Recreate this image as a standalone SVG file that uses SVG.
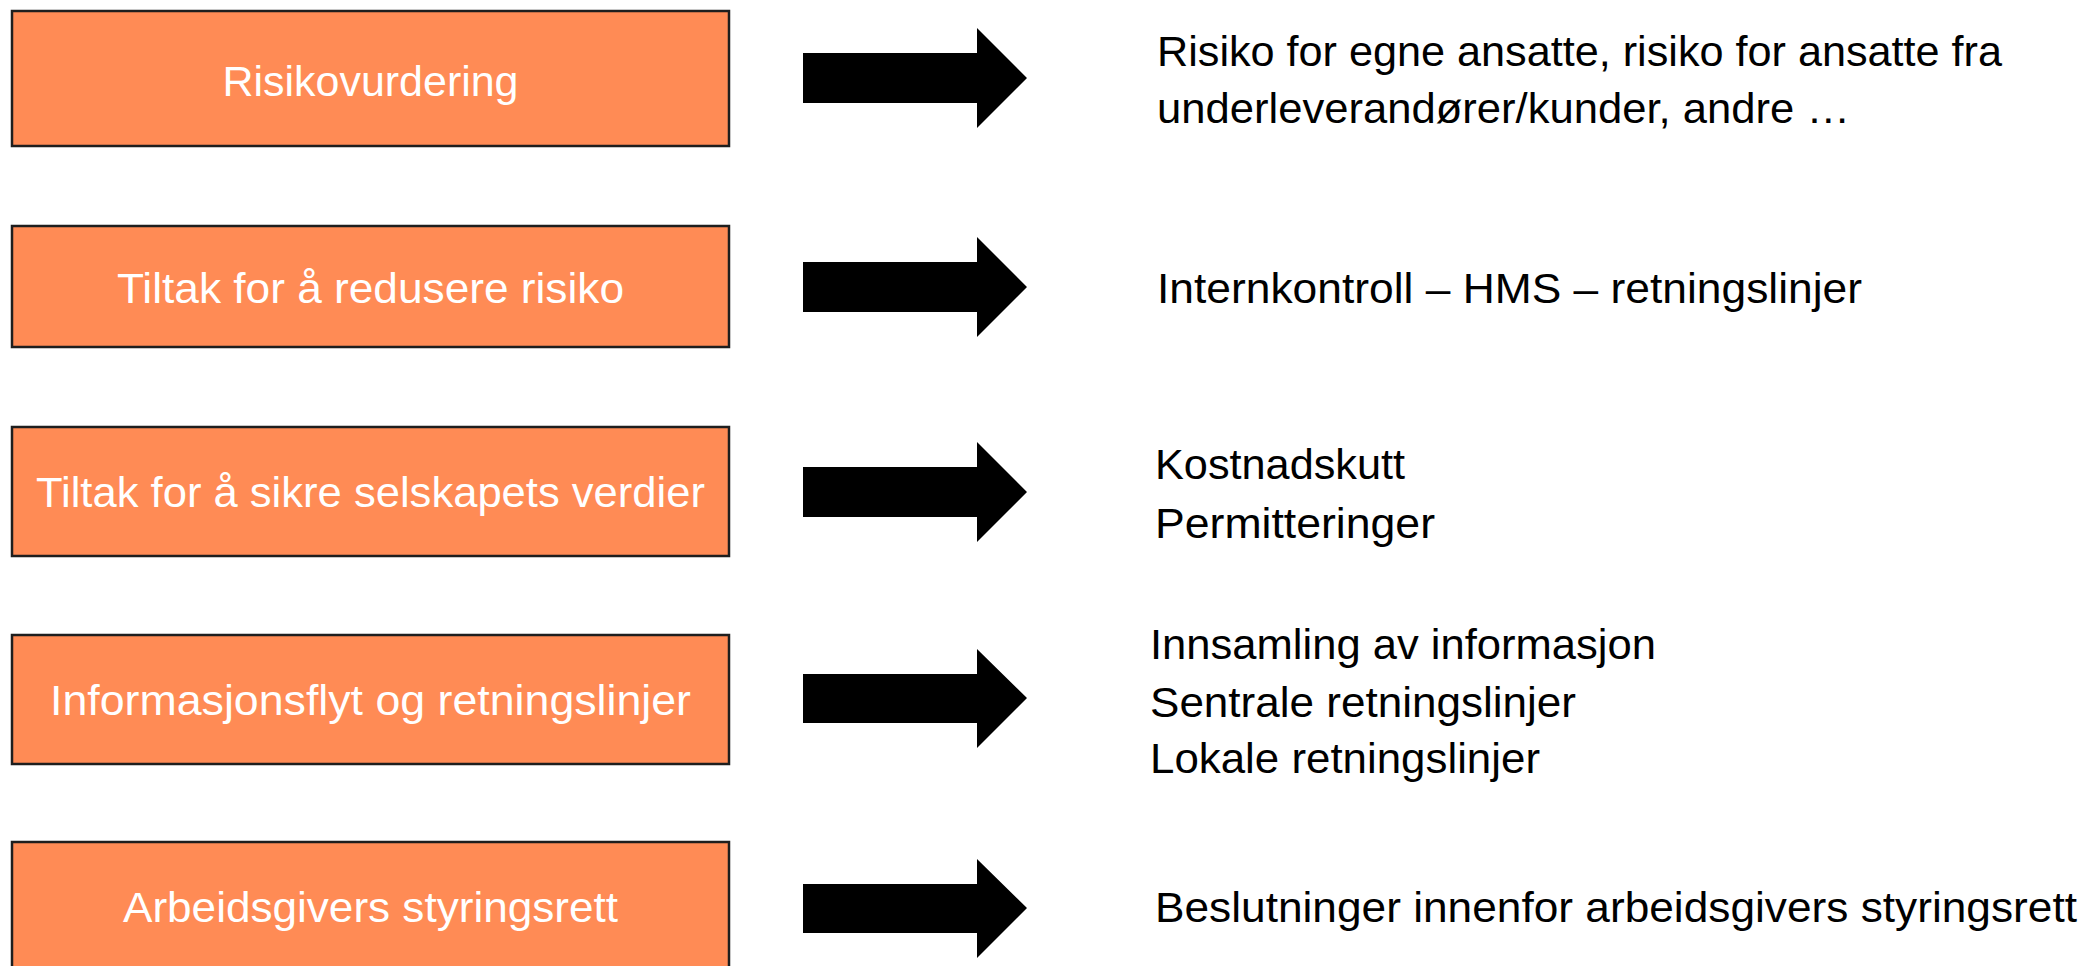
<svg xmlns="http://www.w3.org/2000/svg" width="2087" height="966" viewBox="0 0 2087 966">
<style>
.box{fill:#FF8B55;stroke:#1e1e1e;stroke-width:2.5}
.bt{font-family:"Liberation Sans",Arial,sans-serif;font-size:43px;fill:#ffffff;text-anchor:middle}
.rt{font-family:"Liberation Sans",Arial,sans-serif;font-size:43px;fill:#000000}
.arr{fill:#000000}
</style>
<rect width="2087" height="966" fill="#ffffff"/>
<g id="node1"><rect class="box" x="12" y="11" width="717" height="135"/><text class="bt" x="370.5" y="96" textLength="296" lengthAdjust="spacingAndGlyphs">Risikovurdering</text></g>
<g id="node2"><rect class="box" x="12" y="226" width="717" height="121"/><text class="bt" x="370.5" y="303" textLength="507" lengthAdjust="spacingAndGlyphs">Tiltak for å redusere risiko</text></g>
<g id="node3"><rect class="box" x="12" y="427" width="717" height="129"/><text class="bt" x="370.5" y="507" textLength="669" lengthAdjust="spacingAndGlyphs">Tiltak for å sikre selskapets verdier</text></g>
<g id="node4"><rect class="box" x="12" y="635" width="717" height="129"/><text class="bt" x="370.5" y="715" textLength="641" lengthAdjust="spacingAndGlyphs">Informasjonsflyt og retningslinjer</text></g>
<g id="node5"><rect class="box" x="12" y="842" width="717" height="134"/><text class="bt" x="370.5" y="922" textLength="495" lengthAdjust="spacingAndGlyphs">Arbeidsgivers styringsrett</text></g>
<g id="connectors">
<polygon class="arr" points="803,53 977,53 977,28 1027,78 977,128 977,103 803,103"/>
<polygon class="arr" points="803,262 977,262 977,237 1027,287 977,337 977,312 803,312"/>
<polygon class="arr" points="803,467 977,467 977,442 1027,492 977,542 977,517 803,517"/>
<polygon class="arr" points="803,674 977,674 977,649 1027,698 977,748 977,723 803,723"/>
<polygon class="arr" points="803,884 977,884 977,859 1027,908 977,958 977,933 803,933"/>
</g>
<g id="desc1"><text class="rt" x="1157" y="66" textLength="845" lengthAdjust="spacingAndGlyphs">Risiko for egne ansatte, risiko for ansatte fra</text><text class="rt" x="1157" y="123" textLength="693" lengthAdjust="spacingAndGlyphs">underleverandører/kunder, andre …</text></g>
<g id="desc2"><text class="rt" x="1157" y="303" textLength="705" lengthAdjust="spacingAndGlyphs">Internkontroll – HMS – retningslinjer</text></g>
<g id="desc3"><text class="rt" x="1155" y="479" textLength="250" lengthAdjust="spacingAndGlyphs">Kostnadskutt</text><text class="rt" x="1155" y="538" textLength="280" lengthAdjust="spacingAndGlyphs">Permitteringer</text></g>
<g id="desc4"><text class="rt" x="1150" y="659" textLength="506" lengthAdjust="spacingAndGlyphs">Innsamling av informasjon</text><text class="rt" x="1150" y="717" textLength="426" lengthAdjust="spacingAndGlyphs">Sentrale retningslinjer</text><text class="rt" x="1150" y="773" textLength="390" lengthAdjust="spacingAndGlyphs">Lokale retningslinjer</text></g>
<g id="desc5"><text class="rt" x="1155" y="922" textLength="922" lengthAdjust="spacingAndGlyphs">Beslutninger innenfor arbeidsgivers styringsrett</text></g>
</svg>
